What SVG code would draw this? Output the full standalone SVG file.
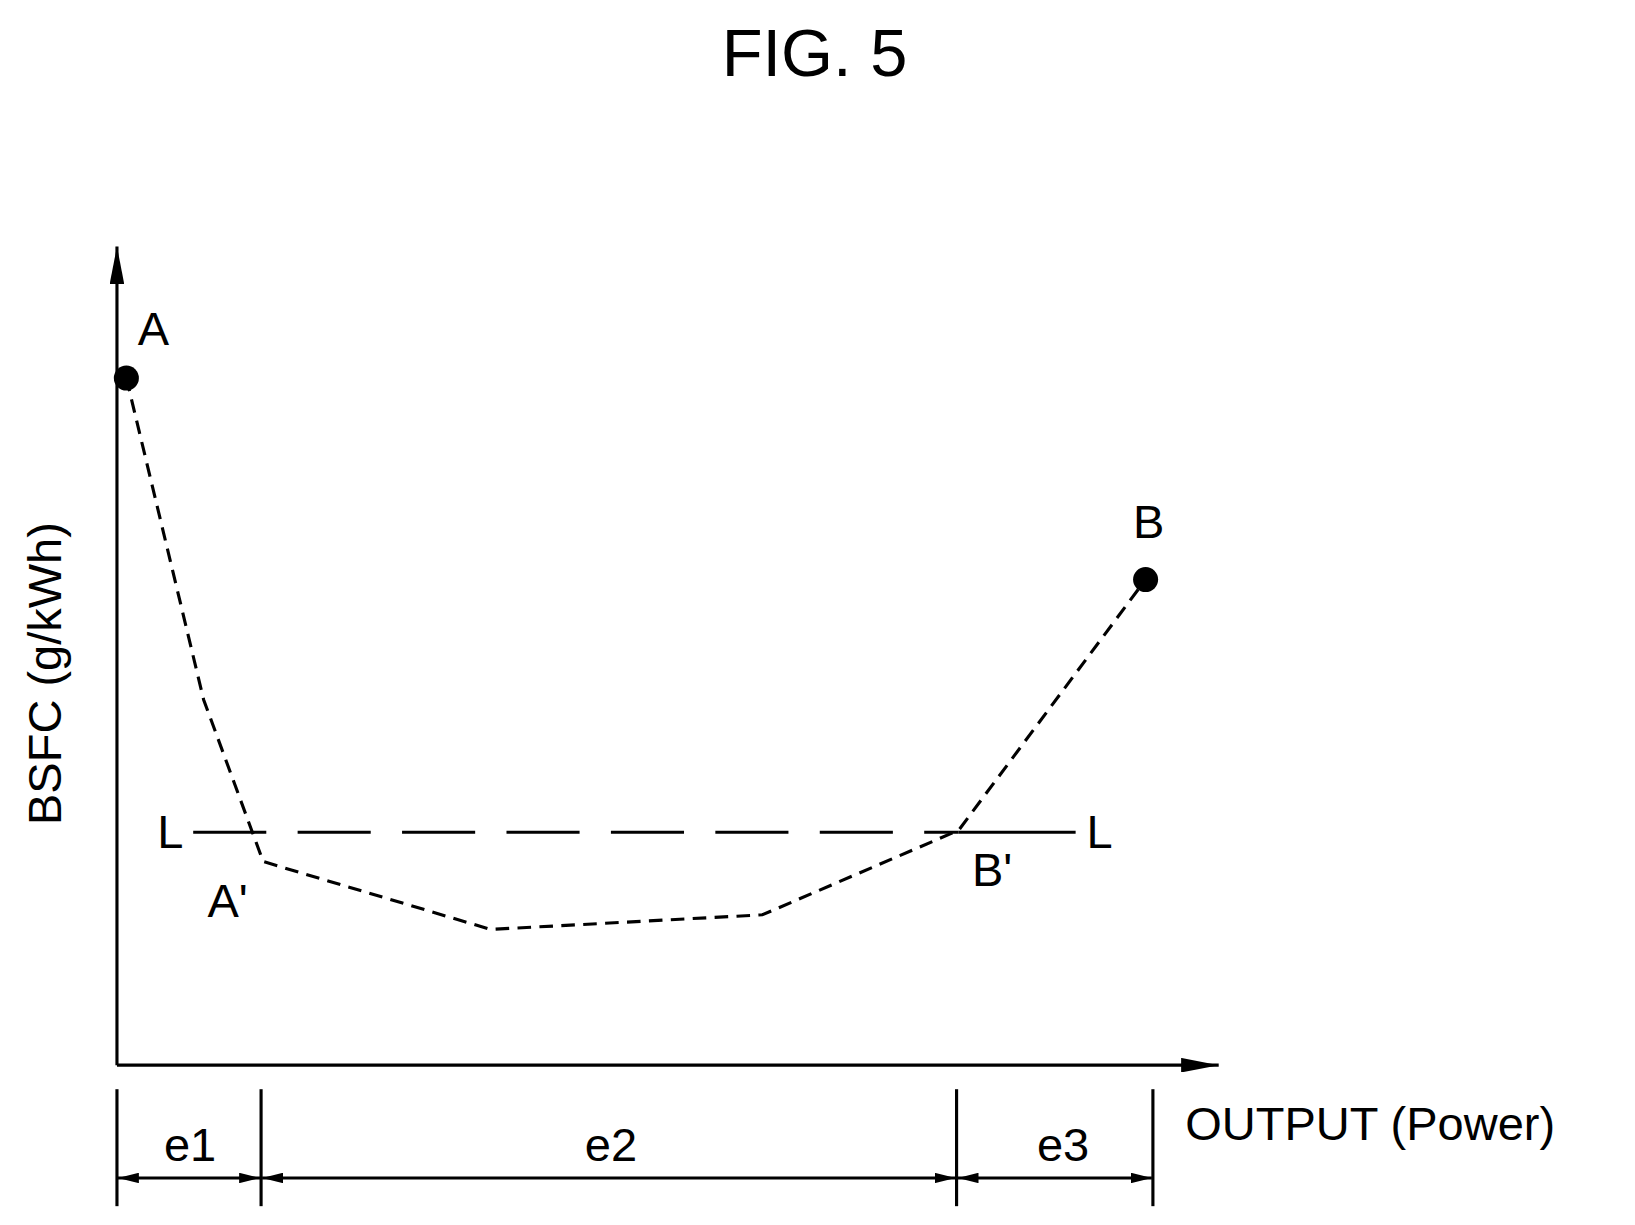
<svg xmlns="http://www.w3.org/2000/svg" width="1635" height="1225" viewBox="0 0 1635 1225">
<style>
text{font-family:"Liberation Sans","DejaVu Sans",sans-serif;fill:#000}
.ax{stroke:#000;stroke-width:3;fill:none}
.t{font-size:45px}
</style>
<defs>
<marker id="ah" viewBox="0 0 20 10" refX="20" refY="5" markerWidth="20" markerHeight="10" markerUnits="userSpaceOnUse" orient="auto-start-reverse"><path d="M0,0 L20,5 L0,10 Z" fill="#000"/></marker>
<marker id="big" viewBox="0 0 36 14" refX="36" refY="7" markerWidth="36" markerHeight="14" markerUnits="userSpaceOnUse" orient="auto"><path d="M0,0 L36,7 L0,14 Z" fill="#000"/></marker>
</defs>
<rect width="1635" height="1225" fill="#fff"/>
<g transform="scale(1.0443)">
<text x="780" y="73" font-size="64" text-anchor="middle">FIG. 5</text>
<g id="axes">
<line class="ax" x1="112" y1="1020" x2="112" y2="236" marker-end="url(#big)"/>
<line class="ax" x1="112" y1="1020" x2="1167" y2="1020" marker-end="url(#big)"/>
</g>
<text class="t" transform="translate(58,645) rotate(-90)" text-anchor="middle">BSFC (g/kWh)</text>
<text class="t" x="1135" y="1092">OUTPUT (Power)</text>
<g id="connectors">
<polyline class="ax" stroke-dasharray="13,8" points="121,362 195,670 252,825 470,890 730,876 918,795 1097,555"/>
<line class="ax" x1="185" y1="797" x2="918" y2="797" stroke-dasharray="70,30"/>
<line class="ax" x1="918" y1="797" x2="1030" y2="797"/>
</g>
<g id="A"><circle cx="121" cy="362" r="12"/><text class="t" x="147" y="330" text-anchor="middle">A</text></g>
<g id="B"><circle cx="1097" cy="555" r="12"/><text class="t" x="1100" y="515" text-anchor="middle">B</text></g>
<text class="t" x="163" y="812" text-anchor="middle">L</text>
<text class="t" x="1053" y="812" text-anchor="middle">L</text>
<text class="t" x="218" y="878" text-anchor="middle">A'</text>
<text class="t" x="950" y="848" text-anchor="middle">B'</text>
<g id="ranges">
<line class="ax" x1="112" y1="1043" x2="112" y2="1155"/>
<line class="ax" x1="250" y1="1043" x2="250" y2="1155"/>
<line class="ax" x1="916" y1="1043" x2="916" y2="1155"/>
<line class="ax" x1="1104" y1="1043" x2="1104" y2="1155"/>
<line class="ax" stroke-width="2" x1="113" y1="1128" x2="249" y2="1128" marker-start="url(#ah)" marker-end="url(#ah)"/>
<line class="ax" stroke-width="2" x1="251" y1="1128" x2="915" y2="1128" marker-start="url(#ah)" marker-end="url(#ah)"/>
<line class="ax" stroke-width="2" x1="917" y1="1128" x2="1103" y2="1128" marker-start="url(#ah)" marker-end="url(#ah)"/>
<text class="t" x="182" y="1112" text-anchor="middle">e1</text>
<text class="t" x="585" y="1112" text-anchor="middle">e2</text>
<text class="t" x="1018" y="1112" text-anchor="middle">e3</text>
</g>
</g>
</svg>
